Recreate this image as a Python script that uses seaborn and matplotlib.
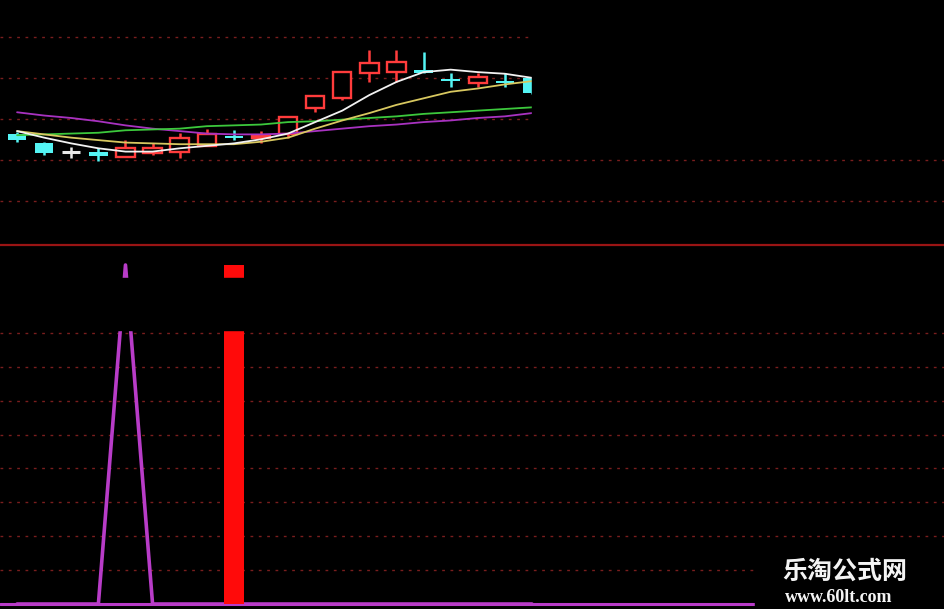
import matplotlib
matplotlib.use("Agg")
import matplotlib.pyplot as plt
from matplotlib.patches import Rectangle
import numpy as np
import pandas as pd
import seaborn as sns

# 20 daily sessions, price units
opens  = [9.82, 9.71, 9.59, 9.59, 9.54, 9.58, 9.59, 9.67, 9.79, 9.76,
          9.82, 10.13, 10.26, 10.56, 10.57, 10.60, 10.48, 10.44, 10.46, 10.50]
closes = [9.74, 9.58, 9.59, 9.55, 9.64, 9.64, 9.77, 9.82, 9.76, 9.79,
          10.02, 10.28, 10.57, 10.68, 10.69, 10.56, 10.46, 10.51, 10.44, 10.31]
highs  = [9.84, 9.72, 9.66, 9.64, 9.74, 9.70, 9.83, 9.88, 9.86, 9.85,
          10.04, 10.28, 10.57, 10.84, 10.84, 10.82, 10.56, 10.56, 10.56, 10.51]
lows   = [9.72, 9.56, 9.52, 9.49, 9.54, 9.56, 9.52, 9.67, 9.74, 9.71,
          9.76, 10.08, 10.23, 10.45, 10.45, 10.56, 10.39, 10.39, 10.39, 10.30]

# moving averages
ma_white  = [9.85, 9.77, 9.70, 9.64, 9.60, 9.60, 9.64, 9.67, 9.70, 9.75,
             9.82, 9.96, 10.10, 10.29, 10.45, 10.57, 10.60, 10.57, 10.55, 10.50]
ma_yellow = [9.85, 9.81, 9.77, 9.74, 9.71, 9.70, 9.69, 9.69, 9.69, 9.72,
             9.77, 9.88, 9.98, 10.07, 10.17, 10.25, 10.33, 10.37, 10.42, 10.46]
ma_green  = [9.80, 9.81, 9.82, 9.83, 9.86, 9.87, 9.88, 9.91, 9.92, 9.93,
             9.96, 9.97, 9.99, 10.01, 10.03, 10.06, 10.08, 10.10, 10.12, 10.14]
ma_purple = [10.08, 10.04, 10.01, 9.97, 9.92, 9.88, 9.85, 9.82, 9.81, 9.81,
             9.82, 9.85, 9.88, 9.91, 9.93, 9.96, 9.98, 10.01, 10.03, 10.07]

# lower indicator
line_sig = [0, 0, 0, 0, 100, 0, 0, 0, 0, 0, 0, 0, 0, 0, 0, 0, 0, 0, 0, 0]
bar_sig  = [0, 0, 0, 0, 0, 0, 0, 0, 100, 0, 0, 0, 0, 0, 0, 0, 0, 0, 0, 0]

price_grid = [9.0, 9.5, 10.0, 10.5, 11.0]
ind_grid = [10, 20, 30, 40, 50, 60, 70, 80, 90]

idx = np.arange(len(opens))
df = pd.DataFrame({"i": idx, "w": ma_white, "y": ma_yellow, "g": ma_green,
                   "p": ma_purple, "line": line_sig, "bar": bar_sig})

sns.set_style("dark", {"axes.facecolor": "black", "figure.facecolor": "black"})
plt.rcParams["font.family"] = ["Noto Sans CJK SC", "DejaVu Sans"]

fig = plt.figure(figsize=(9.45, 6.09), dpi=100, facecolor="black")
ax1 = fig.add_axes([0, 1 - 245 / 609, 1, 245 / 609])
ax2 = fig.add_axes([0, 0, 1, 364 / 609])

grid_kw = dict(color="#7a1e1e", lw=1, linestyle=(0, (2, 4)), zorder=0)
red, cyan = "#ff3c3c", "#54f4f4"
w = 0.68

# ---- top: candles + MAs
for lvl in price_grid:
    ax1.axhline(lvl, **grid_kw)

for i, o, c, h, l in zip(idx, opens, closes, highs, lows):
    if abs(c - o) < 0.005:
        col = "#e8e8e8"
    elif c > o:
        col = red
    else:
        col = cyan
    ax1.vlines(i, l, h, color=col, lw=1.8, zorder=2)
    if abs(c - o) < 0.005:
        ax1.hlines(o, i - w / 2, i + w / 2, color=col, lw=2.2, zorder=3)
    elif c > o:
        ax1.bar(i, c - o, bottom=o, width=w, facecolor="black",
                edgecolor=col, linewidth=1.7, zorder=3)
    else:
        ax1.bar(i, o - c, bottom=c, width=w, color=col, linewidth=0, zorder=3)

for key, col in [("p", "#a832c0"), ("g", "#3cc83c"), ("y", "#d8c860"), ("w", "#f2f2f2")]:
    sns.lineplot(data=df, x="i", y=key, color=col, lw=1.3, ax=ax1, zorder=4)

# blacked-out region at top right
ax1.add_patch(Rectangle((19, 9.75), 20, 3, color="black", zorder=10))

ax1.set_xlim(-0.63, 34.24)
ax1.set_ylim(8.46, 11.45)

# ---- bottom: indicator
for lvl in ind_grid:
    ax2.axhline(lvl, **grid_kw)
ax2.axhline(0, color="#b83cc8", lw=2.2, zorder=3)
sns.lineplot(data=df, x="i", y="line", color="#b83cc8", lw=2.6, ax=ax2, zorder=4)
sns.barplot(data=df, x="i", y="bar", native_scale=True, color="#ff0a0a",
            width=0.74, linewidth=0, saturation=1, errorbar=None, ax=ax2, zorder=4)
ax2.axhspan(80.9, 96.2, color="black", zorder=6)

ax2.set_xlim(-0.63, 34.24)
ax2.set_ylim(-1.47, 105.9)

for ax in (ax1, ax2):
    ax.set_xlabel("")
    ax.set_ylabel("")
    ax.set_xticks([])
    ax.set_yticks([])
    ax.grid(False)
    for s in ax.spines.values():
        s.set_visible(False)
ax2.spines["top"].set_visible(True)
ax2.spines["top"].set_color("#9a1414")
ax2.spines["top"].set_linewidth(1.6)

# watermark
fig.add_artist(Rectangle((755 / 945, 0), 190 / 945, 56 / 609,
                         transform=fig.transFigure, color="black", zorder=20))
fig.text(845 / 945, 1 - 572 / 609, "乐淘公式网", color="#f4f4f4", fontsize=18,
         fontweight="bold", ha="center", va="center", zorder=21)
fig.text(839 / 945, 1 - 597 / 609, "www.60lt.com", color="#f4f4f4", fontsize=13,
         fontweight="bold", family=["Liberation Serif"], ha="center", va="center",
         zorder=21)

fig.savefig("out.png", dpi=100, facecolor="black")
